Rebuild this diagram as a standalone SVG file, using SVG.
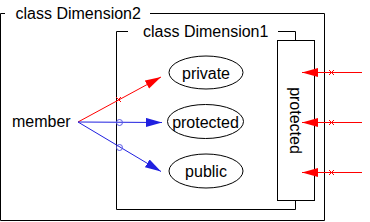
<svg xmlns="http://www.w3.org/2000/svg" width="370" height="222" viewBox="0 0 370 222">
<style>
text{font-family:"Liberation Sans",Arial,sans-serif;font-size:16px;fill:#000}
.box{fill:none;stroke:#000;stroke-width:1}
.ell{fill:#fff;stroke:#000;stroke-width:1}
.red{stroke:#f00;stroke-width:1;fill:none}
.blue{stroke:#2020e0;stroke-width:1;fill:none}
.circ{stroke:#5a5ae6;stroke-width:1;fill:none}
</style>
<defs>
<marker id="ar" markerUnits="userSpaceOnUse" markerWidth="17" markerHeight="10" refX="16" refY="4.5" orient="auto"><path d="M0,0 L16,4.5 L0,9 z" fill="#f00"/></marker>
<marker id="ab" markerUnits="userSpaceOnUse" markerWidth="17" markerHeight="10" refX="16" refY="4.5" orient="auto"><path d="M0,0 L16,4.5 L0,9 z" fill="#2020e0"/></marker>
</defs>
<g id="dimension2">
<path class="box" d="M5,13.5 H0.5 V220.5 H324.5 V13.5 H150"/>
<text x="15.5" y="19">class Dimension2</text>
</g>
<g id="dimension1">
<path class="box" d="M128,31.5 H116.5 V209.5 H295.5 V200.5 M295.5,40.5 V31.5 H278"/>
<text x="143" y="37">class Dimension1</text>
</g>
<g id="protected-face">
<rect class="box" x="277.5" y="40.5" width="37" height="160"/>
<text transform="translate(289.5,120.5) rotate(90)" text-anchor="middle">protected</text>
</g>
<g id="member"><text x="12" y="127">member</text></g>
<g id="private"><ellipse class="ell" cx="206" cy="72.5" rx="37" ry="16.5"/><text x="206" y="78.5" text-anchor="middle">private</text></g>
<g id="protected"><ellipse class="ell" cx="205.5" cy="121.5" rx="38" ry="17"/><text x="205.5" y="127.5" text-anchor="middle">protected</text></g>
<g id="public"><ellipse class="ell" cx="206" cy="171" rx="37" ry="17"/><text x="206" y="177" text-anchor="middle">public</text></g>
<g id="connectors">
<line class="red" x1="78" y1="122" x2="161" y2="77" marker-end="url(#ar)"/>
<path class="red" d="M116,97 L121,102 M121,97 L116,102"/>
<line class="blue" x1="78" y1="122" x2="162" y2="122.5" marker-end="url(#ab)"/>
<circle class="circ" cx="119.5" cy="122.5" r="3"/>
<line class="blue" x1="78" y1="122" x2="161" y2="171.5" marker-end="url(#ab)"/>
<circle class="circ" cx="119.5" cy="147.5" r="3"/>
<line class="red" x1="362" y1="72.5" x2="302" y2="72.5" marker-end="url(#ar)"/>
<line class="red" x1="362" y1="122.5" x2="302" y2="122.5" marker-end="url(#ar)"/>
<line class="red" x1="362" y1="172.5" x2="302" y2="172.5" marker-end="url(#ar)"/>
<path class="red" d="M329,70 L334,75 M334,70 L329,75 M329,120 L334,125 M334,120 L329,125 M329,170 L334,175 M334,170 L329,175"/>
</g>
</svg>
